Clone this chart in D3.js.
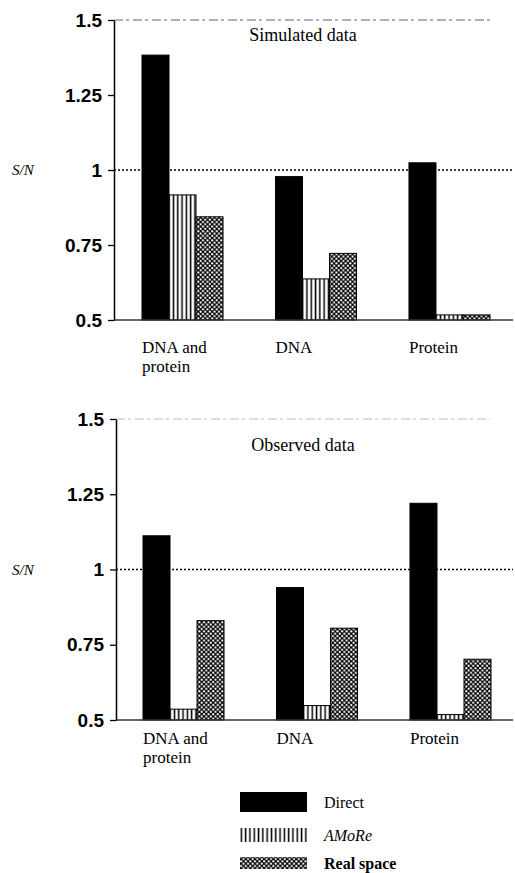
<html>
<head>
<style>
  body { margin: 0; background: #fff; }
  text { fill: #000; }
</style>
</head>
<body>
  <svg id="svg" width="515" height="873"></svg>

  <script src="https://cdn.jsdelivr.net/npm/d3@7/dist/d3.min.js"></script>
  <script type="text/javascript">
  // data
  const categories = ["DNA and protein", "DNA", "Protein"];
  const series = ["Direct", "AMoRe", "Real space"];
  const yTicks = [0.5, 0.75, 1, 1.25, 1.5];

  const simDirect = [1.383, 0.978, 1.024];
  const simAMoRe  = [0.917, 0.637, 0.517];
  const simReal   = [0.844, 0.722, 0.517];

  const obsDirect = [1.112, 0.940, 1.220];
  const obsAMoRe  = [0.536, 0.548, 0.518];
  const obsReal   = [0.830, 0.805, 0.702];

  const svg = d3.select("#svg");
  const defs = svg.append("defs");

  // vertical hatching (AMoRe)
  let ps = defs.append("pattern").attr("id", "stripes")
    .attr("patternUnits", "userSpaceOnUse").attr("width", 4.3).attr("height", 4);
  ps.append("rect").attr("width", 4.3).attr("height", 4).attr("fill", "#fff");
  ps.append("rect").attr("x", 0.6).attr("width", 1.5).attr("height", 4).attr("fill", "#000");

  // dotted check (real space)
  let pc = defs.append("pattern").attr("id", "check")
    .attr("patternUnits", "userSpaceOnUse").attr("width", 4.6).attr("height", 4.6);
  pc.append("rect").attr("width", 4.6).attr("height", 4.6).attr("fill", "#000");
  pc.append("circle").attr("cx", 1.15).attr("cy", 1.15).attr("r", 1.1).attr("fill", "#fff");
  pc.append("circle").attr("cx", 3.45).attr("cy", 3.45).attr("r", 1.1).attr("fill", "#fff");

  const fills = { "Direct": "#000", "AMoRe": "url(#stripes)", "Real space": "url(#check)" };

  function panel(cfg) {
    const g = svg.append("g");
    const y = d3.scaleLinear().domain([0.5, 1.5]).range([cfg.bottom, cfg.top]);
    const x0 = d3.scaleBand().domain(categories).range(cfg.xr).paddingInner(0.393).paddingOuter(0);
    const x1 = d3.scaleBand().domain(series).range([0, x0.bandwidth()]).padding(0);

    // faint broken top frame
    g.append("line")
      .attr("x1", cfg.ax).attr("x2", 490)
      .attr("y1", y(1.5)).attr("y2", y(1.5))
      .style("stroke", cfg.frame).style("stroke-width", 1)
      .style("stroke-dasharray", "9,3,3,4");

    // dotted line at S/N = 1
    g.append("line")
      .attr("x1", cfg.ax).attr("x2", 513)
      .attr("y1", y(1)).attr("y2", y(1))
      .style("stroke", "#000").style("stroke-width", 1.4)
      .style("stroke-dasharray", "2,2");

    const rows = categories.map((c, i) => ({
      cat: c,
      vals: [["Direct", cfg.direct[i]], ["AMoRe", cfg.amore[i]], ["Real space", cfg.real[i]]]
    }));

    const grp = g.selectAll("g.grp").data(rows).enter().append("g")
      .attr("class", "grp")
      .attr("transform", d => "translate(" + x0(d.cat) + ",0)");
    grp.selectAll("rect").data(d => d.vals).enter().append("rect")
      .attr("x", d => x1(d[0]))
      .attr("y", d => y(d[1]))
      .attr("width", x1.bandwidth())
      .attr("height", d => y(0.5) - y(d[1]))
      .style("fill", d => fills[d[0]])
      .style("stroke", "#000").style("stroke-width", 1);

    // baseline
    g.append("line")
      .attr("x1", cfg.ax).attr("x2", 513)
      .attr("y1", y(0.5)).attr("y2", y(0.5))
      .style("stroke", "#333").style("stroke-width", 1.3);

    // y axis
    const axis = g.append("g")
      .attr("transform", "translate(" + cfg.ax + ",0)")
      .call(d3.axisLeft(y).tickValues(yTicks).tickFormat(d => String(d)).tickSize(6).tickSizeOuter(0));
    axis.select(".domain").style("stroke-width", 1.5);
    axis.selectAll(".tick line").style("stroke-width", 1.3);
    axis.selectAll(".tick text")
      .attr("x", -12)
      .style("font-family", "'Liberation Sans', Arial, sans-serif")
      .style("font-weight", "bold")
      .style("font-size", "19px");

    g.append("text")
      .attr("x", 12).attr("y", y(1)).attr("dy", "0.35em")
      .style("font-family", "'Liberation Serif', 'DejaVu Serif', serif")
      .style("font-style", "italic")
      .style("font-size", "15px")
      .text("S/N");

    g.append("text")
      .attr("x", 303).attr("y", cfg.titleY).attr("dy", "0.35em")
      .attr("text-anchor", "middle")
      .style("font-family", "'Liberation Serif', 'DejaVu Serif', serif")
      .style("font-size", "18px")
      .text(cfg.title);

    // category labels, left aligned under the groups
    const lab = g.selectAll("text.cat").data(categories).enter().append("text")
      .attr("class", "cat")
      .attr("x", d => x0(d))
      .attr("y", cfg.labelY)
      .attr("dy", "0.35em")
      .style("font-family", "'Liberation Serif', 'DejaVu Serif', serif")
      .style("font-size", "17px");
    lab.each(function (d) {
      const parts = d === "DNA and protein" ? ["DNA and", "protein"] : [d];
      d3.select(this).selectAll("tspan").data(parts).enter().append("tspan")
        .attr("x", x0(d))
        .attr("dy", (p, i) => i === 0 ? 0 : 19)
        .text(p => p);
    });
  }

  panel({ top: 20, bottom: 320, ax: 114, xr: [142, 490], title: "Simulated data", titleY: 35,
          labelY: 353, frame: "#666", direct: simDirect, amore: simAMoRe, real: simReal });
  panel({ top: 419, bottom: 720, ax: 116, xr: [143, 491], title: "Observed data", titleY: 445,
          labelY: 744, frame: "#bbb", direct: obsDirect, amore: obsAMoRe, real: obsReal });

  // legend
  const leg = svg.append("g").attr("transform", "translate(240,0)");
  const legRows = [
    { name: "Direct", y: 792, h: 20, italic: false },
    { name: "AMoRe", y: 828, h: 14, italic: true },
    { name: "Real space", y: 857, h: 12, italic: false }
  ];
  leg.selectAll("rect").data(legRows).enter().append("rect")
    .attr("x", 0).attr("y", d => d.y)
    .attr("width", 67).attr("height", d => d.h)
    .style("fill", d => fills[d.name]);
  leg.selectAll("text").data(legRows).enter().append("text")
    .attr("x", 84).attr("y", d => d.y + d.h / 2).attr("dy", "0.35em")
    .style("font-family", "'Liberation Serif', 'DejaVu Serif', serif")
    .style("font-style", d => d.italic ? "italic" : "normal")
    .style("font-weight", d => d.name === "Real space" ? "bold" : "normal")
    .style("font-size", "16px")
    .text(d => d.name);
  </script>
</body>
</html>
